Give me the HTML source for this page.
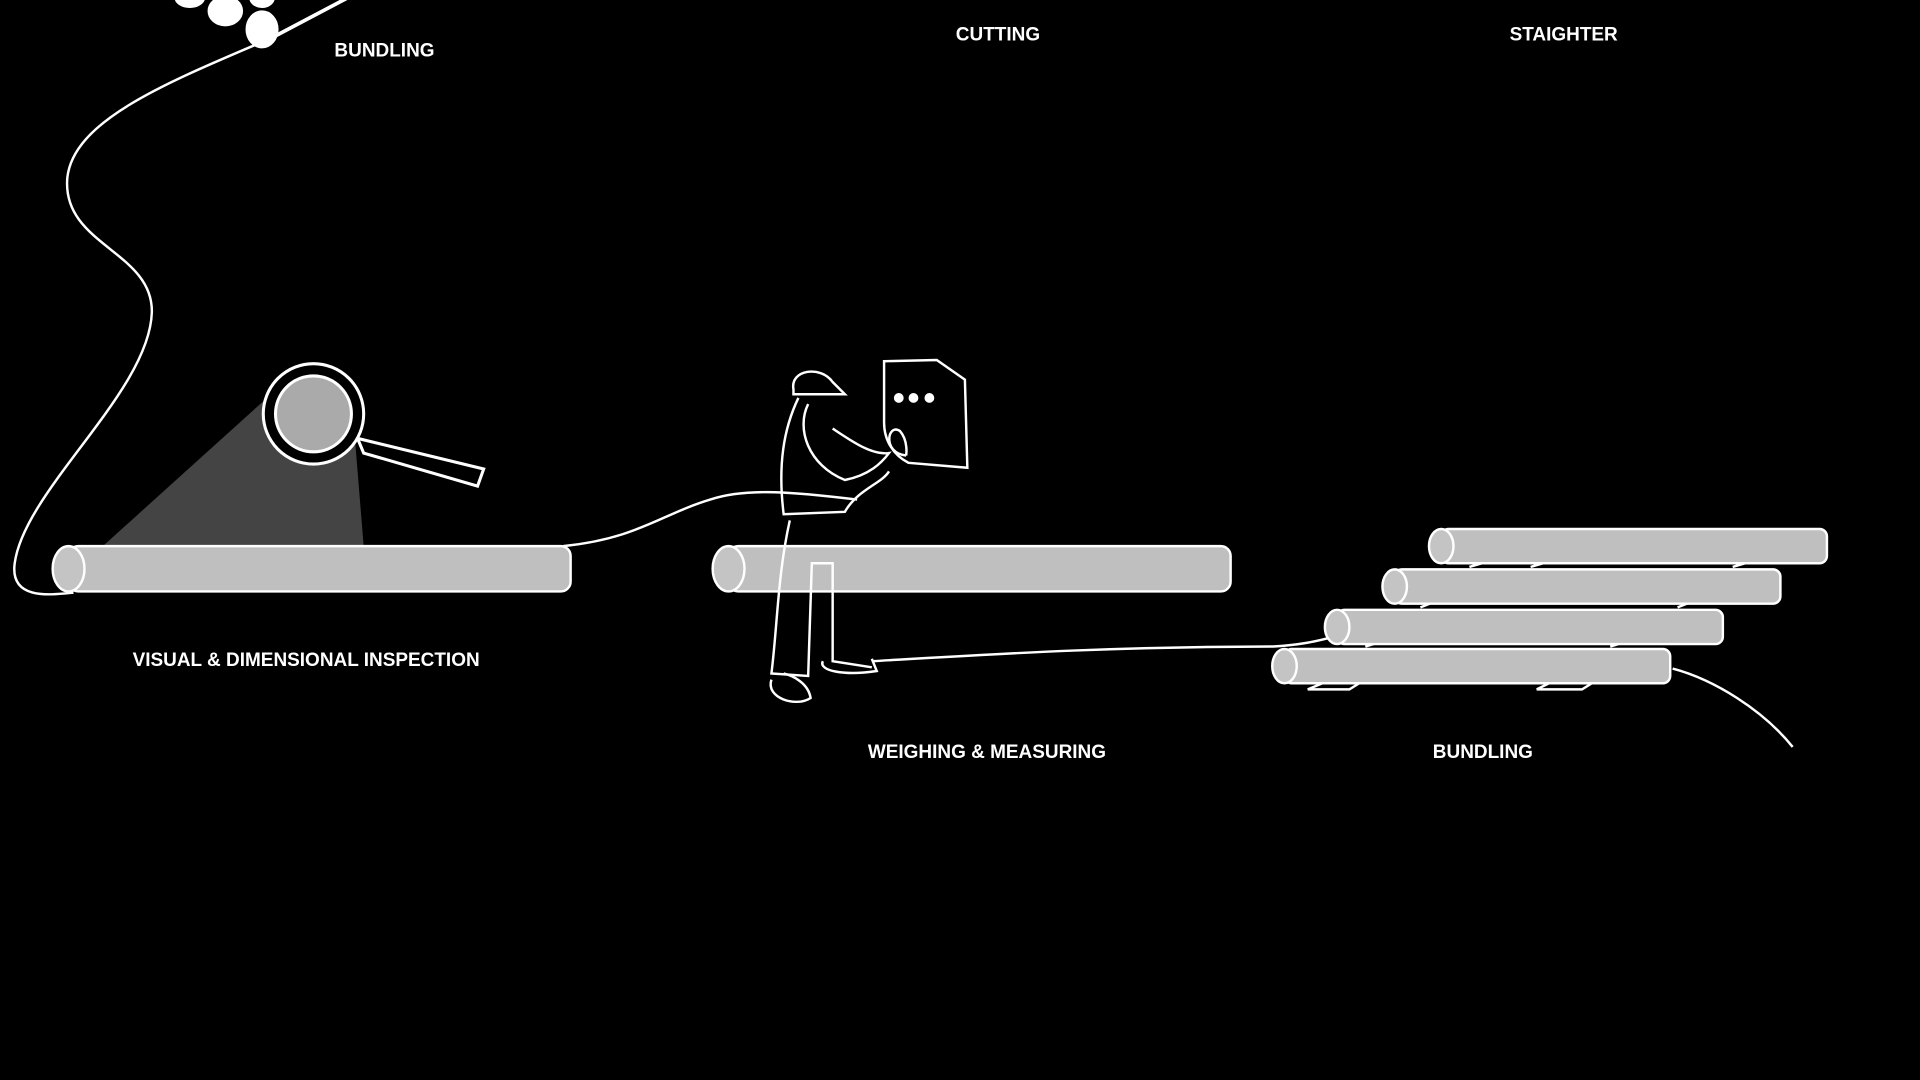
<!DOCTYPE html>
<html><head><meta charset="utf-8"><style>
html,body{margin:0;padding:0;background:#000;width:1920px;height:1080px;overflow:hidden}
svg{display:block}
text{font-family:"Liberation Sans",sans-serif;font-weight:bold;fill:#fff;font-size:15.5px}
</style></head><body>
<svg width="1920" height="1080" viewBox="0 0 1568 882" preserveAspectRatio="none">
<rect width="1568" height="882" fill="#000"/>
<g fill="#fff" stroke="#fff">
<line x1="218" y1="33" x2="290" y2="-5" stroke-width="3"/>
<ellipse cx="184" cy="9" rx="14" ry="12"/>
<ellipse cx="214" cy="24" rx="13" ry="15"/>
<ellipse cx="155" cy="-2" rx="12" ry="8"/>
<ellipse cx="214" cy="-2" rx="10" ry="8"/>
</g>
<path d="M210 36 C130 70 60 100 55 145 C50 200 125 205 124 255 C122 320 20 400 12 460 C8 490 40 486 60 484" fill="none" stroke="#fff" stroke-width="2"/>
<polygon points="84,446 297,446 290,360 218,325" fill="#444"/>
<g stroke="#fff" stroke-width="2.5">
<polygon points="292,358 297,370 390,397 395,383" fill="#000"/>
<circle cx="256" cy="338" r="41" fill="#000"/>
<circle cx="256" cy="338" r="31" fill="#aaa"/>
</g>
<g stroke="#fff" stroke-width="2">
<rect x="56" y="446" width="410" height="37" rx="8" fill="#bfbfbf"/>
<ellipse cx="56" cy="464.5" rx="13" ry="18.5" fill="#c4c4c4"/>
</g>
<path d="M460 446 C520 440 540 420 580 408 C610 398 650 402 700 408" fill="none" stroke="#fff" stroke-width="2"/>
<g stroke="#fff" stroke-width="2">
<rect x="595" y="446" width="410" height="37" rx="8" fill="#bfbfbf"/>
<ellipse cx="595" cy="464.5" rx="13" ry="18.5" fill="#c4c4c4"/>
</g>
<g fill="none" stroke="#fff" stroke-width="2">
<path d="M648 318 C645 302 670 298 680 312 L690 322 L648 322 Z"/>
<path d="M652 325 C640 350 635 380 640 420 L690 418 C700 400 720 395 726 385"/>
<path d="M660 330 C650 350 660 380 690 392 C710 388 720 378 726 370 C712 372 695 360 680 350"/>
<path d="M645 425 C635 470 635 510 630 550 L660 552 L663 460 L680 460 L680 540 L712 545"/>
<path d="M630 555 C625 570 650 578 662 570 C660 558 648 552 640 550"/>
<path d="M672 540 C668 548 690 552 716 548 L712 538"/>
<path d="M722 295 L765 294 L788 310 L790 382 L742 378 C730 372 722 360 722 345 Z"/>
<path d="M740 372 C720 370 725 345 735 352 C742 360 740 372 740 372"/>
</g>
<g fill="#fff">
<circle cx="734" cy="325" r="4"/><circle cx="746" cy="325" r="4"/><circle cx="759" cy="325" r="4"/>
</g>
<path d="M712 540 C800 535 900 528 1040 528 C1070 526 1080 522 1090 520" fill="none" stroke="#fff" stroke-width="2"/>
<g stroke="#fff" stroke-width="2">
<path d="M1200 463 L1210 460 L1260 460 L1250 463 M1415 463 L1425 460 L1450 460 M1160 496 L1170 492 L1215 492 M1370 496 L1380 492 L1410 492 M1115 528 L1125 525 L1160 525 M1315 528 L1325 525 L1360 525 M1068 563 L1080 558 L1110 558 L1102 563 Z M1255 563 L1265 558 L1300 558 L1292 563 Z" fill="none"/>
<rect x="1177" y="432" width="315" height="28" rx="6" fill="#bfbfbf"/>
<ellipse cx="1177" cy="446" rx="10" ry="14" fill="#c4c4c4"/>
<rect x="1139" y="465" width="315" height="28" rx="6" fill="#bfbfbf"/>
<ellipse cx="1139" cy="479" rx="10" ry="14" fill="#c4c4c4"/>
<rect x="1092" y="498" width="315" height="28" rx="6" fill="#bfbfbf"/>
<ellipse cx="1092" cy="512" rx="10" ry="14" fill="#c4c4c4"/>
<rect x="1049" y="530" width="315" height="28" rx="6" fill="#bfbfbf"/>
<ellipse cx="1049" cy="544" rx="10" ry="14" fill="#c4c4c4"/>
</g>
<path d="M1366 546 C1400 555 1440 580 1464 610" fill="none" stroke="#fff" stroke-width="2"/>
<text x="314" y="46" text-anchor="middle">BUNDLING</text>
<text x="815" y="33" text-anchor="middle">CUTTING</text>
<text x="1277" y="33" text-anchor="middle">STAIGHTER</text>
<text x="250" y="544" text-anchor="middle">VISUAL &amp; DIMENSIONAL INSPECTION</text>
<text x="806" y="619" text-anchor="middle">WEIGHING &amp; MEASURING</text>
<text x="1211" y="619" text-anchor="middle">BUNDLING</text>
</svg>
</body></html>
